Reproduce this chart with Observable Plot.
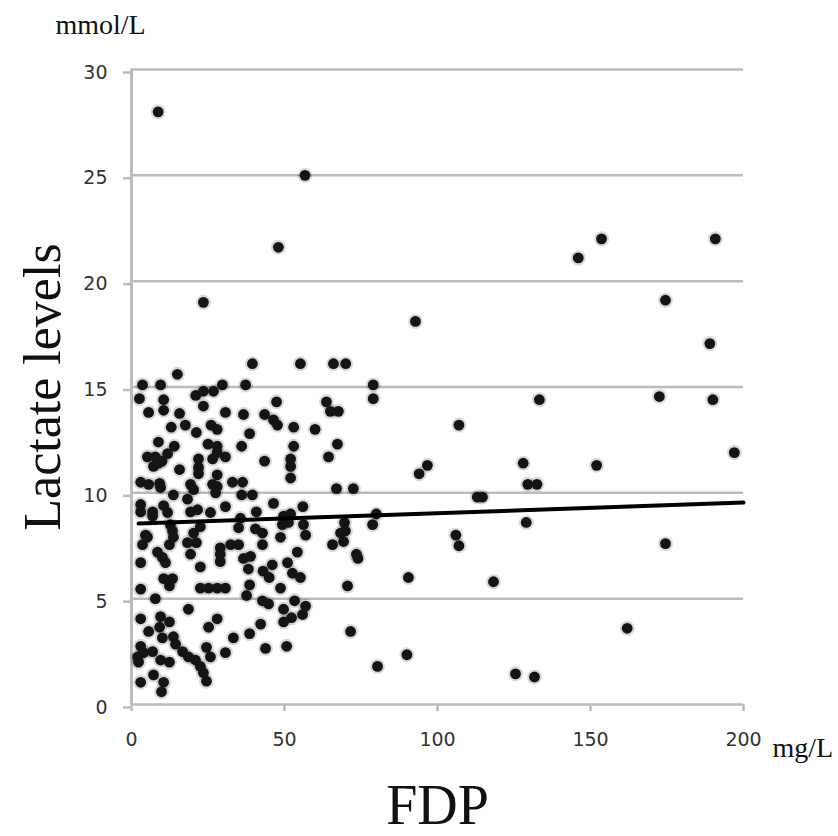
<!DOCTYPE html>
<html>
<head>
<meta charset="utf-8">
<script src="https://cdn.jsdelivr.net/npm/d3@7"></script>
<script src="https://cdn.jsdelivr.net/npm/@observablehq/plot@0.6"></script>
<style>
  html, body { margin: 0; padding: 0; background: #fff; }
  #chart { width: 838px; height: 836px; }
</style>
</head>
<body>
<div id="chart"></div>
<script>
// FDP (mg/L) values
const fdp = [
  8.7,56.7,48,23.5,92.8,146,153.6,190.8,174.5,189,172.5,190,197,128,152,129.5,132.5,133.3,129,174.5,118.3,162,125.5,131.7,113,114.7,
  79,79,67.6,107,67.3,96.7,94,67,72.5,69.6,68.3,69.9,69.3,65.7,78.8,80,106,107,74,73.5,90.5,70.6,71.6,80.4,90,
  15,39.5,55.2,66,70,
  3.6,9.5,29.7,2.6,10.5,21,23.5,26.8,23.5,5.6,10.5,15.7,30.7,13,17.6,21.2,26,28,8.8,14,25,28,11.8,5.2,7.8,10,7.2,8.8,21.9,26.5,28,30.7,15.7,21.9,21.9,28,3,5.6,9.2,9.5,19.3,20.3,26.5,28,27.5,33,13.7,18.3,3,3,6.9,10.5,11.8,6.9,19.3,21.6,25.8,30.7,22.5,12.7,4.6,13.4,20.3,
  37.3,47.4,36.6,43.5,46.4,47.7,63.7,65,53,60,38.6,53,36,64.4,43.5,52,52,52,36.3,36,39.5,46.4,40.8,56,35.6,49.7,52,51.3,49.3,56.2,40.5,42.8,35,48.7,56.9,
  42.8,54.2,36.6,38.9,38.2,46,43,45,51,52.6,55.2,38.6,48.7,37.6,42.8,44.8,49.7,53.3,56.9,52.3,55.9,49.7,42.2,38.6,43.8,50.7,
  5.2,3.6,12.4,13.7,18.3,21.2,19.3,8.5,10.1,11.1,3,22.5,29,29,29,32.4,35,10.5,13.4,12.4,3,22.5,25.2,28,30.7,7.8,18.6,3,9.5,12.4,28,25.2,5.6,9.2,10.1,33.3,13.7,14.4,3,3.9,2,2.3,6.9,16.7,18.6,20.9,9.5,12.4,24.5,25.8,30.7,22.5,23.5,24.5,7.2,3,10.5,9.8
];
// Lactate (mmol/L) values, same order
const lactate = [
  28.0,25.0,21.6,19.0,18.1,21.1,22.0,22.0,19.1,17.05,14.55,14.4,11.9,11.4,11.3,10.4,10.4,14.4,8.6,7.6,5.8,3.6,1.45,1.3,9.8,9.8,
  15.1,14.45,13.85,13.2,12.3,11.3,10.9,10.2,10.2,8.6,8.1,8.2,7.7,7.55,8.5,9.0,8.0,7.5,6.9,7.1,6.0,5.6,3.45,1.8,2.35,
  15.6,16.1,16.1,16.1,16.1,
  15.1,15.1,15.1,14.45,14.4,14.6,14.8,14.8,14.1,13.8,13.9,13.75,13.8,13.1,13.2,12.85,13.2,13.0,12.4,12.2,12.3,12.2,11.85,11.7,11.7,11.5,11.25,11.4,11.6,11.6,11.9,11.7,11.1,11.2,10.9,10.85,10.5,10.4,10.45,10.25,10.4,10.15,10.4,10.3,10.0,10.5,9.9,9.7,9.45,9.1,9.1,9.4,9.07,8.9,9.1,9.2,9.07,9.35,8.4,8.5,8.0,8.2,8.1,
  15.1,14.3,13.7,13.7,13.45,13.2,14.3,13.85,13.1,13.0,12.8,12.2,12.2,11.7,11.5,11.6,11.25,10.7,10.5,9.9,9.9,9.5,9.1,9.35,8.8,8.9,9.0,8.6,8.5,8.5,8.3,8.1,8.35,7.9,8.0,
  7.55,7.2,6.9,7.0,6.4,6.6,6.3,6.0,6.7,6.2,6.0,5.65,5.5,5.15,4.9,4.75,4.5,4.9,4.65,4.1,4.25,3.9,3.8,3.35,2.65,2.75,
  7.9,7.55,7.55,7.9,7.65,7.65,7.1,7.2,6.95,6.7,6.7,6.5,7.4,7.1,6.75,7.55,7.55,5.95,5.95,5.6,5.45,5.5,5.5,5.5,5.5,5.0,4.5,4.05,4.15,3.9,4.05,3.65,3.45,3.65,3.15,3.15,3.2,2.85,2.75,2.45,2.25,2.0,2.5,2.5,2.25,2.1,2.1,2.0,2.7,2.25,2.45,1.8,1.5,1.1,1.4,1.05,1.05,0.6
];
// Trend line endpoints
const trendX = [2.3, 200];
const trendY = [8.55, 9.54];
// Tick values
const xTicks = [0, 50, 100, 150, 200];
const yTicks = [0, 5, 10, 15, 20, 25, 30];

const points = fdp.map((x, i) => ({x, y: lactate[i]}));
const trend = trendX.map((x, i) => ({x, y: trendY[i]}));

const gridColor = "#bcbcbc";
const serif = "'Liberation Serif', 'Times New Roman', serif";
const sans = "'DejaVu Sans', Verdana, sans-serif";

const chart = Plot.plot({
  width: 838,
  height: 836,
  marginLeft: 131,
  marginRight: 95,
  marginTop: 69,
  marginBottom: 132,
  x: {domain: [0, 200]},
  y: {domain: [0, 30]},
  style: {background: "#fff", overflow: "visible"},
  marks: [
    Plot.ruleY(yTicks, {stroke: gridColor, strokeWidth: 2.5}),
    Plot.ruleX([0], {y1: 0, y2: 30, stroke: gridColor, strokeWidth: 3}),
    Plot.axisY({ticks: yTicks, tickSize: 8, tickPadding: 16, stroke: gridColor, strokeWidth: 2.5,
      fill: "#333", fontSize: 19, fontFamily: sans, label: null, dy: 3}),
    Plot.axisX({ticks: xTicks, tickSize: 7, tickPadding: 21, stroke: gridColor, strokeWidth: 2.5,
      fill: "#333", fontSize: 19, fontFamily: sans, label: null}),
    Plot.dot(points, {x: "x", y: "y", r: 7.5, fill: "#000", fillOpacity: 0.15}),
    Plot.dot(points, {x: "x", y: "y", r: 5.4, fill: "#141414"}),
    Plot.line(trend, {x: "x", y: "y", stroke: "#000", strokeWidth: 4}),
    Plot.text(["mmol/L"], {frameAnchor: "top-left", dx: -76, dy: -44, textAnchor: "start", lineAnchor: "middle",
      fontSize: 28, fontFamily: serif, fill: "#111", letterSpacing: "0.5px"}),
    Plot.text(["mg/L"], {frameAnchor: "bottom-right", dx: 29, dy: 44, textAnchor: "start", lineAnchor: "middle",
      fontSize: 28, fontFamily: serif, fill: "#111"}),
    Plot.text(["Lactate levels"], {frameAnchor: "left", dx: -88, dy: 0, rotate: -90, textAnchor: "middle", lineAnchor: "middle",
      fontSize: 52, fontFamily: serif, fill: "#111", letterSpacing: "0.5px"}),
    Plot.text(["FDP"], {frameAnchor: "bottom", dx: 0, dy: 102, textAnchor: "middle", lineAnchor: "middle",
      fontSize: 56, fontFamily: serif, fill: "#111"})
  ]
});
document.getElementById("chart").appendChild(chart);
</script>
</body>
</html>
